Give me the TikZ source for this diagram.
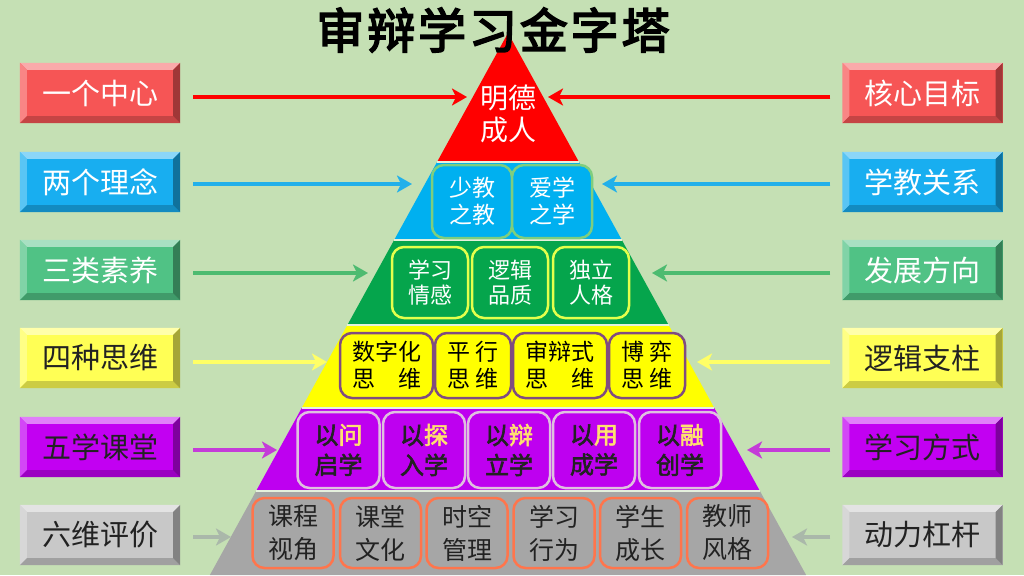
\documentclass[tikz,border=0pt]{standalone}
\usepackage{fontspec}
\setmainfont{Noto Sans CJK SC}
\newfontfamily\boldcjk[FakeBold=2.5]{Noto Sans CJK SC}
\newfontfamily\titlecjk[FakeBold=3.5,LetterSpace=6]{Noto Sans CJK SC}
\usetikzlibrary{arrows.meta}

\definecolor{bg}{HTML}{C5E0B4}
\definecolor{redFace}{HTML}{F65555}
\definecolor{blueFace}{HTML}{18AEF0}
\definecolor{greenFace}{HTML}{50C285}
\definecolor{yellowFace}{HTML}{FFFF55}
\definecolor{purpleFace}{HTML}{C200F2}
\definecolor{grayFace}{HTML}{C8C8C8}
\definecolor{redArrow}{HTML}{FF0000}
\definecolor{blueArrow}{HTML}{22B0EA}
\definecolor{greenArrow}{HTML}{4DBB70}
\definecolor{yellowArrow}{HTML}{FFFF66}
\definecolor{purpleArrow}{HTML}{C43CD8}
\definecolor{grayArrow}{HTML}{AAB8AA}
\definecolor{layRed}{HTML}{FF0000}
\definecolor{layBlue}{HTML}{00B0F0}
\definecolor{layGreen}{HTML}{05A54C}
\definecolor{layYellow}{HTML}{FFFF00}
\definecolor{layPurple}{HTML}{BE00F0}
\definecolor{layGray}{HTML}{A6A6A6}
\definecolor{hl}{HTML}{FFE070}
\definecolor{darktext}{HTML}{222222}

\begin{document}
\begin{tikzpicture}[x=1pt,y=-1pt,
    side box/.style={minimum width=160,minimum height=60,inner sep=0,font=\fontsize{29}{29}\selectfont},
    link/.style={line width=4,-{Stealth[length=15,width=17,inset=4]}},
    cell/.style={rounded corners=12,line width=2.5,inner sep=0,align=center},
    blue cell/.style={cell,draw=green!45!gray!70!white,fill=layBlue,text=white,minimum width=80,minimum height=73,font=\fontsize{23}{27}\selectfont},
    green cell/.style={cell,draw=lime!60!yellow!70!white,fill=layGreen,text=white,minimum width=76,minimum height=71,font=\fontsize{22}{25}\selectfont},
    yellow cell/.style={cell,draw=violet!40!gray,fill=layYellow,text=black,minimum height=65,font=\fontsize{23}{27}\selectfont},
    purple cell/.style={cell,draw=violet!25!white,fill=layPurple,text=darktext,minimum width=82,minimum height=76,font=\boldcjk\fontsize{24}{30}\selectfont},
    gray cell/.style={cell,draw=red!55!orange!70!white,fill=layGray,text=darktext,minimum width=81,minimum height=70,font=\fontsize{25}{33}\selectfont}]

    \useasboundingbox (0,0) rectangle (1024,575);
    \fill[bg] (0,0) rectangle (1024,575);

    % pyramid layers
    \foreach \ya/\yb/\c in {33/162/layRed,162/240/layBlue,240/325/layGreen,325/408/layYellow,408/491/layPurple,491/575/layGray}
        \fill[\c] ({508-0.55*(\ya-33)},\ya) -- ({508+0.55*(\ya-33)},\ya) -- ({508+0.55*(\yb-33)},\yb) -- ({508-0.55*(\yb-33)},\yb) -- cycle;
    \foreach \ya in {162,240,325,408,491}
        \draw[white!55!bg,line width=1.5] ({508-0.55*(\ya-33)},\ya) -- ({508+0.55*(\ya-33)},\ya);

    \node[font=\titlecjk\fontsize{48}{48}\selectfont] (title) at (493,30) {审辩学习金字塔};

    \node[align=center,text=white,font=\fontsize{28}{32}\selectfont] (top) at (508,114) {明德\\成人};

    \foreach \x/\txt [count=\i] in {472/少教\\之教,552/爱学\\之学}
        \node[blue cell] (b\i) at (\x,201.5) {\txt};
    \foreach \x/\txt [count=\i] in {430/学习\\情感,510/逻辑\\品质,591/独立\\人格}
        \node[green cell] (g\i) at (\x,282.5) {\txt};
    \foreach \x/\w/\txt [count=\i] in {386.5/93/数字化\\思　维,473/76/平 行\\思 维,560/94/审辩式\\思　维,647/76/博 弈\\思 维}
        \node[yellow cell,minimum width=\w] (y\i) at (\x,365.5) {\txt};
    \foreach \x/\txt [count=\i] in {338.5/以{\color{hl}问}\\启学,424/以{\color{hl}探}\\入学,509/以{\color{hl}辩}\\立学,594/以{\color{hl}用}\\成学,680/以{\color{hl}融}\\创学}
        \node[purple cell] (p\i) at (\x,450) {\txt};
    \foreach \x/\txt [count=\i] in {293/课程\\视角,380.5/课堂\\文化,467/时空\\管理,554/学习\\行为,640.5/学生\\成长,727.5/教师\\风格}
        \node[gray cell] (s\i) at (\x,533) {\txt};

    % side boxes and arrows
    \foreach \n/\yb/\ya/\lt/\rt/\fc/\ac/\tc/\xl/\xr in {
        1/93/97/一个中心/核心目标/redFace/redArrow/white/467/548,
        2/182/184/两个理念/学教关系/blueFace/blueArrow/white/412/602,
        3/270/273/三类素养/发展方向/greenFace/greenArrow/white/368/652,
        4/358/362/四种思维/逻辑支柱/yellowFace/yellowArrow/darktext/327/697,
        5/447/450/五学课堂/学习方式/purpleFace/purpleArrow/darktext/277/747,
        6/535/537/六维评价/动力杠杆/grayFace/grayArrow/darktext/231/792}
    {
        \node[side box,fill=\fc] (L\n) at (100,\yb) {};
        \node[side box,fill=\fc] (R\n) at (922.5,\yb) {};
        \foreach \s in {L,R} {
            \fill[\fc!50!white] (\s\n.north west) -- (\s\n.north east) -- ([shift={(-7,7)}]\s\n.north east) -- ([shift={(7,7)}]\s\n.north west) -- cycle;
            \fill[\fc!72!white] (\s\n.north west) -- ([shift={(7,7)}]\s\n.north west) -- ([shift={(7,-7)}]\s\n.south west) -- (\s\n.south west) -- cycle;
            \fill[\fc!80!black] (\s\n.south west) -- (\s\n.south east) -- ([shift={(-7,-7)}]\s\n.south east) -- ([shift={(7,-7)}]\s\n.south west) -- cycle;
            \fill[\fc!65!black] (\s\n.north east) -- (\s\n.south east) -- ([shift={(-7,-7)}]\s\n.south east) -- ([shift={(-7,7)}]\s\n.north east) -- cycle;
        }
        \node[side box,text=\tc] at (L\n) {\lt};
        \node[side box,text=\tc] at (R\n) {\rt};
        \coordinate (tl\n) at (\xl,\ya);
        \coordinate (tr\n) at (\xr,\ya);
        \draw[link,\ac] ([xshift=13]L\n.east |- tl\n) -- (tl\n);
        \draw[link,\ac] ([xshift=-12]R\n.west |- tr\n) -- (tr\n);
    }
\end{tikzpicture}
\end{document}
